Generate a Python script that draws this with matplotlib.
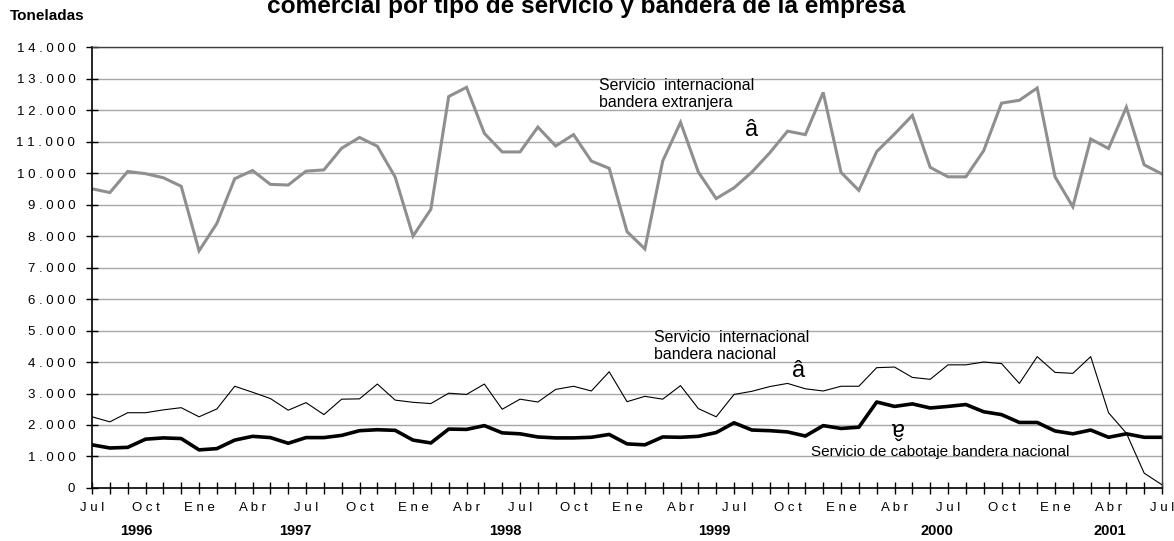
import matplotlib.pyplot as plt
import numpy as np

plt.rcParams['font.family'] = ['Liberation Sans', 'DejaVu Sans']

# monthly tonnes, Jul 1996 .. Jul 2001
meses = np.arange(61)
intl_extranjera = [9500, 9380, 10050, 9980, 9850, 9580, 7530, 8400, 9820, 10080,
                   9640, 9620, 10060, 10100, 10790, 11130, 10850, 9870, 8000, 8850,
                   12430, 12720, 11260, 10670, 10670, 11460, 10860, 11220, 10380, 10150,
                   8140, 7590, 10380, 11610, 10030, 9190, 9530, 10030, 10640, 11330,
                   11220, 12560, 10020, 9450, 10680, 11240, 11830, 10180, 9880, 9880,
                   10710, 12220, 12310, 12700, 9880, 8930, 11080, 10780, 12090, 10260,
                   9970]
intl_nacional = [2260, 2100, 2390, 2390, 2480, 2550, 2260, 2510, 3230, 3040,
                 2840, 2470, 2710, 2330, 2820, 2830, 3300, 2790, 2720, 2680,
                 3010, 2970, 3300, 2500, 2820, 2730, 3130, 3230, 3080, 3690,
                 2740, 2910, 2820, 3250, 2520, 2260, 2970, 3070, 3220, 3320,
                 3150, 3080, 3230, 3230, 3820, 3840, 3510, 3450, 3910, 3910,
                 4000, 3950, 3320, 4170, 3670, 3640, 4170, 2390, 1740, 470,
                 100]
cabotaje = [1370, 1270, 1290, 1550, 1590, 1570, 1210, 1250, 1520, 1640,
            1600, 1420, 1600, 1600, 1670, 1820, 1850, 1830, 1520, 1430,
            1870, 1860, 1980, 1750, 1720, 1620, 1590, 1590, 1610, 1700,
            1400, 1370, 1620, 1610, 1640, 1760, 2070, 1840, 1820, 1780,
            1650, 1980, 1890, 1930, 2730, 2590, 2670, 2540, 2590, 2650,
            2420, 2330, 2080, 2080, 1810, 1720, 1840, 1610, 1720, 1610,
            1610]

mes_labels = ['J u l', 'O c t', 'E n e', 'A b r']
anios = ['1996', '1997', '1998', '1999', '2000', '2001']
anio_pos = [2.5, 11.4, 23.2, 34.9, 47.4, 57.1]

fig = plt.figure(figsize=(11.74, 5.41), dpi=100)
ax = fig.add_axes([0.0784, 0.098, 0.9114, 0.815])

ax.plot(meses, intl_extranjera, color='#8f8f8f', lw=2.2, solid_joinstyle='miter')
ax.plot(meses, intl_nacional, color='black', lw=0.8)
ax.plot(meses, cabotaje, color='black', lw=2.6)

ax.set_xlim(0, 60)
ax.set_ylim(0, 14000)

yt = np.arange(0, 14001, 1000)
ax.set_yticks(yt)
ax.set_yticklabels(['0'] + [' '.join(f'{v:,}'.replace(',', '.')) for v in yt[1:]],
                   fontsize=9.5)
ax.set_xticks(meses, minor=True)
ax.set_xticks(np.arange(0, 61, 3))
ax.set_xticklabels([mes_labels[i % 4] for i in range(21)], fontsize=9.5)
ax.tick_params(axis='both', which='both', direction='inout', length=8, width=1, color='black')
ax.tick_params(axis='x', which='both', pad=6)
ax.tick_params(axis='y', pad=8)

ax.grid(axis='y', color='#a8a8a8', lw=1)
ax.set_axisbelow(True)
for s in ['left', 'bottom']:
    ax.spines[s].set_color('black')
    ax.spines[s].set_linewidth(1.2)
for s in ['top', 'right']:
    ax.spines[s].set_color('#404040')
    ax.spines[s].set_linewidth(1)

for lab, p in zip(anios, anio_pos):
    ax.text(p, -1370, lab, ha='center', va='center', fontsize=10.5, fontweight='bold')

# annotations
ax.text(28.4, 12510, 'Servicio  internacional\nbandera extranjera', fontsize=11.4,
        va='center', ha='left', linespacing=1.15)
ax.text(37.0, 11380, 'â', fontsize=17, ha='center', va='center')
ax.text(31.5, 4510, 'Servicio  internacional\nbandera nacional', fontsize=11.4,
        va='center', ha='left', linespacing=1.15)
ax.text(39.6, 3730, 'â', fontsize=17, ha='center', va='center')
ax.text(45.1, 1900, 'â', fontsize=17, ha='center', va='center', rotation=180)
ax.text(40.3, 1150, 'Servicio de cabotaje bandera nacional', fontsize=11,
        va='center', ha='left')

fig.text(0.008, 0.97, 'Toneladas', fontsize=11, fontweight='bold', va='center')
fig.text(0.499, 1 - 13 / 541, 'comercial por tipo de servicio y bandera de la empresa',
         fontsize=17.6, fontweight='bold', ha='center', va='baseline')

fig.savefig('out.png', dpi=100)
